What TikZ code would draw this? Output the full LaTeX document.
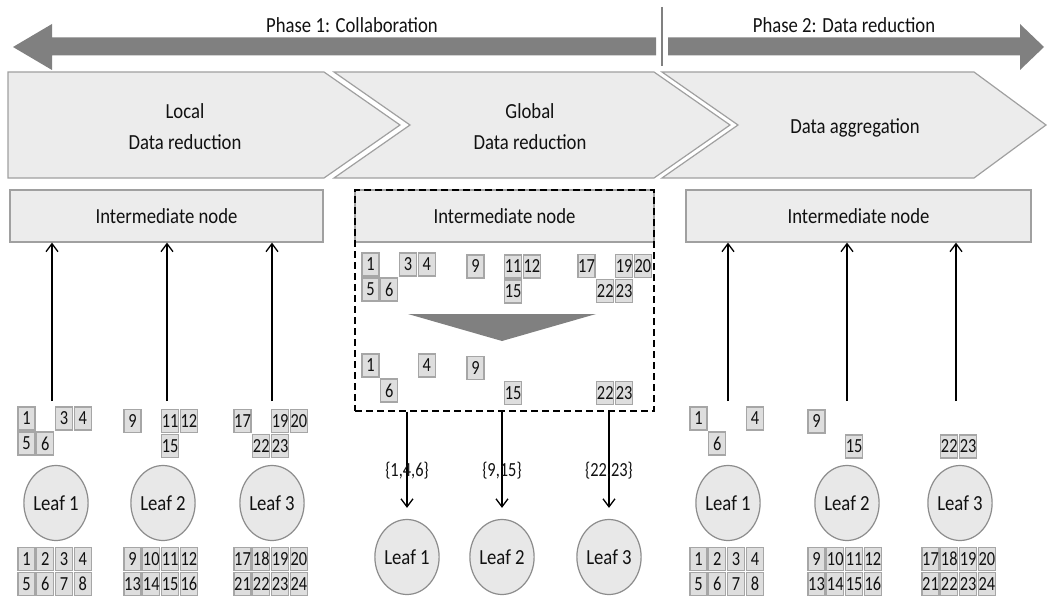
\documentclass[tikz,border=0pt]{standalone}
\usepackage{fontspec}
\setmainfont{Carlito}[FakeStretch=0.87]
\newfontfamily\cellfamily{Carlito}[FakeStretch=0.82]
\usetikzlibrary{shapes.geometric,arrows.meta}

\definecolor{bandgray}{HTML}{808080}
\definecolor{chevfill}{HTML}{ECECEC}
\definecolor{chevline}{HTML}{A0A0A0}
\definecolor{cellfill}{HTML}{DEDEDE}
\definecolor{cellline}{HTML}{A6A6A6}
\definecolor{leaffill}{HTML}{E8E8E8}
\definecolor{leafline}{HTML}{8C8C8C}
\definecolor{inkcol}{HTML}{111111}

\newcommand\bigtxt{\fontsize{21.5}{31}\selectfont}
\newcommand\numtxt{\cellfamily\fontsize{20}{21}\selectfont}

% a group of numbered cells laid out on a 4x2 grid:
% #1 name prefix, #2 x of first column, #3 y of first row, #4 first number, #5 numbers shown
\newcommand\numset[5]{%
  \foreach \n in {#5}{%
    \pgfmathtruncatemacro\kk{\n-#4}%
    \pgfmathtruncatemacro\cc{mod(\kk,4)}%
    \pgfmathtruncatemacro\rr{div(\kk,4)}%
    \node[numbox] (#1-\n) at ({#2+18.8*\cc},{#3+25*\rr}) {\n};%
  }}

\begin{document}
\begin{tikzpicture}[x=1pt,y=-1pt,
  every node/.style={text=inkcol},
  band/.style={fill=bandgray,draw=none},
  chev/.style={fill=chevfill,draw=chevline,line width=1.2pt,line join=miter},
  lbl/.style={font=\bigtxt,align=center},
  imbox/.style={draw=chevline,fill=chevfill,line width=1.2pt,minimum width=313pt,minimum height=52pt,inner sep=0pt,font=\bigtxt},
  numbox/.style={draw=cellline,fill=cellfill,line width=1.3pt,minimum width=17pt,minimum height=23pt,inner sep=0pt,font=\numtxt},
  leaf/.style={ellipse,draw=leafline,fill=leaffill,line width=1.2pt,minimum width=55pt,minimum height=75pt,inner sep=0pt,font=\bigtxt},
  grpbox/.style={draw=black,line width=1.3pt,dash pattern=on 7pt off 4pt,inner sep=0pt},
  arr/.style={draw=black,line width=1.3pt,-{Straight Barb[length=8pt,width=12pt]}},
  setlbl/.style={font=\numtxt}
]
\useasboundingbox (0,0) rectangle (1047,599);

% phase band
\fill[band] (13,47) -- (52,24) -- (52,37.5) -- (656,37.5) -- (656,55.5) -- (52,55.5) -- (52,70) -- cycle;
\fill[band] (668,37.5) -- (1020,37.5) -- (1020,24) -- (1044,47) -- (1020,70) -- (1020,55.5) -- (668,55.5) -- cycle;
\draw[bandgray,line width=1.5pt] (662,7) -- (662,66);
\node[lbl] (ph1) at (352,25) {Phase 1: Collaboration};
\node[lbl] (ph2) at (844,25) {Phase 2: Data reduction};

% process chevrons
\filldraw[chev] (8,72) -- (324,72) -- (400,125) -- (324,178) -- (8,178) -- cycle;
\filldraw[chev] (334,72) -- (654,72) -- (730,125) -- (654,178) -- (334,178) -- (410,125) -- cycle;
\filldraw[chev] (662,72) -- (974,72) -- (1046,125) -- (974,178) -- (662,178) -- (738,125) -- cycle;
\node[lbl] (st1) at (185,127) {Local\\Data reduction};
\node[lbl] (st2) at (530,127) {Global\\Data reduction};
\node[lbl] (st3) at (855,128) {Data aggregation};

% intermediate nodes
\node[imbox] (im1) at (166.5,216) {Intermediate node};
\node[imbox,minimum width=299pt] (im2) at (504.5,216) {Intermediate node};
\node[imbox,minimum width=345pt] (im3) at (858.5,216) {Intermediate node};
\node[grpbox,minimum width=299pt,minimum height=221pt] (grp) at (504.5,300.5) {};

% left column: local reduction
\node[leaf] (ll1) at (56,503) {Leaf 1};
\node[leaf] (ll2) at (163,503) {Leaf 2};
\node[leaf] (ll3) at (272,503) {Leaf 3};
\numset{lg1}{26.5}{559}{1}{1,...,8}
\numset{lg2}{132.5}{559}{9}{9,...,16}
\numset{lg3}{242.5}{559}{17}{17,...,24}
\numset{ls1}{26.5}{418.5}{1}{1,3,4,5,6}
\numset{ls2}{132.5}{421}{9}{9,11,12,15}
\numset{ls3}{242.5}{421}{17}{17,19,20,22,23}
\coordinate (la1) at (52,401);
\coordinate (la2) at (167,401);
\coordinate (la3) at (272,401);
\foreach \i in {1,2,3}{\draw[arr] (la\i) -- (la\i |- im1.south);}

% middle column: global reduction
\numset{mt1}{370.5}{264.5}{1}{1,3,4,5,6}
\numset{mt2}{475.5}{266.5}{9}{9,11,12,15}
\numset{mt3}{586.5}{266}{17}{17,19,20,22,23}
\fill[bandgray] (408,314) -- (596,314) -- (502,341) -- cycle;
\numset{mb1}{370.5}{365.5}{1}{1,4,6}
\numset{mb2}{475.5}{368}{9}{9,15}
\numset{mb3}{586.5}{368}{17}{22,23}
\node[leaf] (ml1) at (407,557) {Leaf 1};
\node[leaf] (ml2) at (502,557) {Leaf 2};
\node[leaf] (ml3) at (609,557) {Leaf 3};
\draw[arr,shorten >=11pt] (grp.south -| ml1) -- (ml1) node[setlbl,pos=0.55] {\{1,4,6\}};
\draw[arr,shorten >=11pt] (grp.south -| ml2) -- (ml2) node[setlbl,pos=0.55] {\{9,15\}};
\draw[arr,shorten >=11pt] (grp.south -| ml3) -- (ml3) node[setlbl,pos=0.55] {\{22,23\}};

% right column: aggregation
\node[leaf] (rl1) at (728,503) {Leaf 1};
\node[leaf] (rl2) at (847,503) {Leaf 2};
\node[leaf] (rl3) at (960,503) {Leaf 3};
\numset{rg1}{698.5}{559}{1}{1,...,8}
\numset{rg2}{816.5}{559}{9}{9,...,16}
\numset{rg3}{930.5}{559}{17}{17,...,24}
\numset{rs1}{698.5}{418.5}{1}{1,4,6}
\numset{rs2}{816.5}{421.5}{9}{9,15}
\numset{rs3}{930.5}{421.5}{17}{22,23}
\coordinate (ra1) at (728,401);
\coordinate (ra2) at (847,401);
\coordinate (ra3) at (956,401);
\foreach \i in {1,2,3}{\draw[arr] (ra\i) -- (ra\i |- im3.south);}
\end{tikzpicture}
\end{document}
